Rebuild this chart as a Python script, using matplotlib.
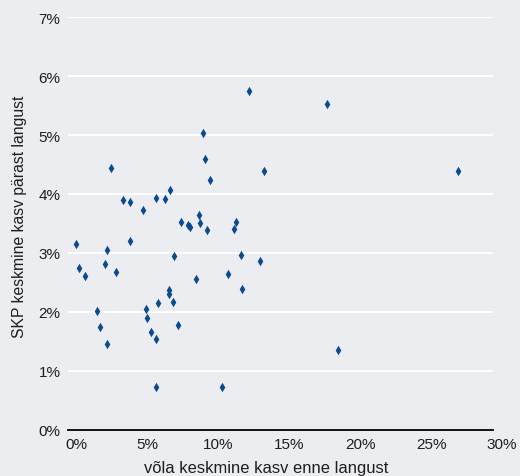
import matplotlib
matplotlib.use("Agg")
import matplotlib.pyplot as plt
import matplotlib.transforms as mtransforms
from matplotlib.ticker import PercentFormatter

# Average debt growth before downturn (%) and average GDP growth after downturn (%)
debt_growth = [3.05, 9.70, 10.07, 3.89, 4.41, 6.26, 6.85, 7.21, 5.35, 7.98,
               8.48, 8.64, 9.27, 9.34, 9.84, 0.60, 2.76, 4.41, 0.83, 1.26,
               2.62, 3.42, 7.49, 9.06, 11.30, 7.14, 7.14, 7.42, 2.06, 2.27,
               2.76, 5.56, 5.63, 6.36, 5.91, 6.26, 7.77, 6.26, 10.92, 12.80,
               18.32, 9.56, 13.88, 11.86, 11.72, 12.21, 13.58, 12.28, 19.10, 27.56]
gdp_growth = [4.44, 4.59, 4.24, 3.89, 3.86, 3.94, 3.92, 4.06, 3.72, 3.52,
              3.47, 3.44, 3.65, 3.50, 3.39, 3.15, 3.05, 3.20, 2.75, 2.60,
              2.82, 2.67, 2.95, 2.55, 2.65, 2.37, 2.31, 2.17, 2.02, 1.75,
              1.45, 2.05, 1.89, 2.15, 1.65, 1.54, 1.78, 0.73, 0.73, 5.75,
              5.53, 5.04, 4.39, 3.52, 3.41, 2.97, 2.87, 2.39, 1.35, 4.39]
x_ticks = [0, 5, 10, 15, 20, 25, 30]
y_ticks = [0, 1, 2, 3, 4, 5, 6, 7]
x_label = "võla keskmine kasv enne langust"
y_label = "SKP keskmine kasv pärast langust"

plt.rcParams['font.family'] = ['Liberation Sans', 'DejaVu Sans']
bg = '#ecedf0'
txt = '#1e1e1e'
W, H = 520, 477
fig = plt.figure(figsize=(W/100, H/100), dpi=100, facecolor=bg)
ax = fig.add_axes([67.5/W, 46.4/H, (493-67.5)/W, (430.6-18.3)/H])
ax.set_facecolor(bg)

ax.scatter(debt_growth, gdp_growth, marker='d', s=4.8**2, color='#0a4a90',
           linewidths=0, zorder=3)

ax.set_xlim(0, 30)
ax.set_ylim(0, 7)
ax.set_xticks(x_ticks)
ax.set_yticks(y_ticks)
ax.xaxis.set_major_formatter(PercentFormatter(decimals=0))
ax.yaxis.set_major_formatter(PercentFormatter(decimals=0))
ax.grid(axis='y', color='white', linewidth=1.5, zorder=0)
ax.set_axisbelow(True)
for s in ['top', 'right', 'left']:
    ax.spines[s].set_visible(False)
ax.spines['bottom'].set_color('black')
ax.spines['bottom'].set_linewidth(1.3)
ax.spines['bottom'].set_zorder(4)
ax.tick_params(axis='both', length=0, labelsize=11, colors=txt)
ax.tick_params(axis='y', pad=5)
ax.tick_params(axis='x', pad=5)

offset = mtransforms.ScaledTranslation(9/100, 0, fig.dpi_scale_trans)
for lab in ax.get_xticklabels():
    lab.set_transform(lab.get_transform() + offset)

fig.text(266.5/W, (H-473)/H, x_label, fontsize=11.9, color=txt,
         ha='center', va='baseline')
fig.text(20/W, (H-217)/H, y_label, fontsize=11.3, color=txt,
         ha='center', va='center', rotation=90)

fig.savefig('out.png', dpi=100, facecolor=bg)
